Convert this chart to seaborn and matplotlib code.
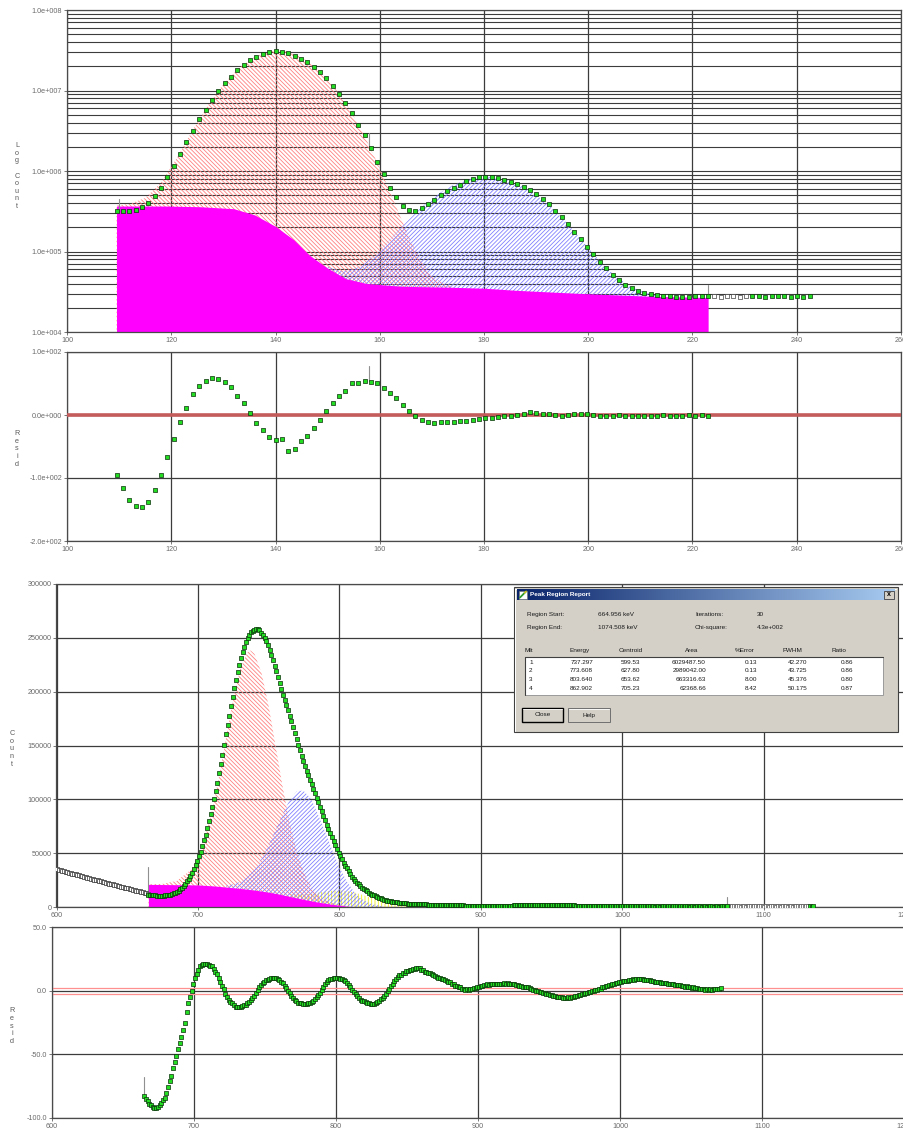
import numpy as np
import matplotlib
matplotlib.use("Agg")
import matplotlib.pyplot as plt
import seaborn as sns
from matplotlib.patches import Rectangle
from matplotlib.ticker import FixedLocator, LogLocator, NullFormatter
from matplotlib.colors import LinearSegmentedColormap

# ======================= DATA =======================
# ---- upper spectrum (log counts), channel calibration ----
TOP_E0, TOP_DE = 109.5, 1.22
top_counts_k = [
    321, 316, 318, 328, 354, 404, 494, 621, 851, 1164,
    1626, 2270, 3170, 4385, 5728, 7621, 9950, 12270, 14860, 17990,
    20750, 23930, 26300, 28380, 29790, 30970, 30340, 28970, 27100, 24600,
    22390, 19770, 17140, 14190, 11380, 9060, 6930, 5210, 3720, 2800,
    1910, 1306, 918, 621, 480, 371, 328, 321, 344, 389,
    437, 504, 565, 621, 670, 752, 796, 836, 851, 851,
    826, 773, 736, 690, 640, 581, 513, 445, 389, 321,
    266, 220, 176, 143, 115, 93.1, 74.8, 61.8, 51.0, 44.3,
    38.4, 34.9, 32.3, 30.8, 29.4, 28.6, 28.0, 27.7, 27.4, 27.4,
    27.2, 27.7, 27.7, 28.0, 27.9, 27.6, 28.1, 27.8, 27.5, 28.0,
    27.7, 27.9, 27.6, 27.8, 28.1, 27.7, 27.5, 27.9, 27.6, 27.8]
top_open_range = (94, 100)   # points drawn as open squares (outside fit region)
top_resid = [
    -95.2, -115.9, -134.4, -145, -146.6, -137.6, -118.5, -95.2, -66.1, -38.1,
    -10.6, 10.6, 33.3, 46, 53.4, 58.7, 56.6, 52.9, 43.9, 30.2,
    18.5, 3.7, -13.2, -24.3, -34.4, -39.7, -38.1, -57.1, -54, -41.8,
    -33.3, -20.1, -7.4, 6.3, 19, 30.2, 38.6, 50.3, 50.8, 53.4,
    52.9, 50.3, 42.9, 35.4, 27, 15.9, 5.8, -2.1, -7.9, -10.6,
    -13.2, -10.6, -10.6,
    -11, -10, -9, -8, -7, -5, -4, -3, -2, -1, 0, 2, 4, 3, 2, 1, 0, -1, 0, 1,
    2, 1, 0, -1, -2, -1, 0, -1, -2, -1, -1, -2, -1, 0, -1, -2, -1, 0, -1, 0, -1]
top_bg_x = [109.5, 119, 125.5, 132, 136, 140, 143.5, 146.5, 150, 153.5, 157.5,
            164, 173.5, 180, 186, 199, 212, 223]
top_bg_k = [367, 367, 360, 340, 285, 205, 140, 90, 62, 46, 40, 37, 36, 35, 33,
            30, 27.8, 26.8]
top_pk1_x = [109.5, 112, 115, 118, 121, 124, 127, 130, 133, 136, 139, 140.5,
             142, 145, 148, 151, 154, 157, 160, 162, 164, 166, 168, 170, 172, 174]
top_pk1_k = [373, 390, 463, 711, 1422, 3124, 6500, 11980, 19130, 26200, 30600,
             31200, 30580, 26040, 18900, 11690, 6186, 2800, 1093, 546, 266, 133,
             74.5, 50, 40.6, 36.3]
top_pk2_x = [150, 153, 156, 159, 162, 165, 168, 171, 174, 177, 180.5, 184, 187,
             190, 193, 196, 199, 202, 205, 208, 211, 214]
top_pk2_k = [65, 56.5, 64, 89, 141, 228, 355, 510, 668, 792, 850, 791, 665, 505,
             350, 222, 133, 79.5, 50.8, 36.8, 30.9, 27.6]
top_marker_x = [110, 158, 223]
top_marker_lo_k = [321, 2000, 29]
top_marker_hi_k = [445, 2960, 38]
top_resid_marker = (158, 54, 78)
top_xticks = [100, 120, 140, 160, 180, 200, 220, 240, 260]
top_yticks = [1e4, 1e5, 1e6, 1e7, 1e8]
top_yticklabels = ['1.0e+004', '1.0e+005', '1.0e+006', '1.0e+007', '1.0e+008']
top_rticks = [-200, -100, 0, 100]
top_rticklabels = ['-2.0e+002', '-1.0e+002', '0.0e+000', '1.0e+002']

# ---- lower spectrum (linear counts) ----
BOT_DE = 1.19
pre_E0 = 600.5
pre_counts_k = [
    35.0, 34.6, 34.1, 33.7, 33.3, 32.8, 32.4, 32.0, 31.5, 31.1,
    30.7, 30.2, 29.8, 29.4, 28.9, 28.5, 28.1, 27.7, 27.2, 26.8,
    26.4, 25.9, 25.5, 25.1, 24.7, 24.3, 23.8, 23.4, 23.0, 22.6,
    22.2, 21.7, 21.3, 20.9, 20.5, 20.1, 19.7, 19.3, 18.9, 18.4,
    18.0, 17.6, 17.2, 16.8, 16.4, 16.0, 15.6, 15.2, 14.8, 14.4,
    14.0, 13.6, 13.2, 12.8, 12.4]
fit_E0 = 665.0
fit_counts_k = [
    11.6, 11.2, 11.0, 10.8, 10.7, 10.6, 10.5, 10.5, 10.5, 10.6,
    10.7, 10.9, 11.2, 11.6, 12.0, 12.6, 13.2, 14.1, 15.2, 16.5,
    18.0, 19.8, 21.8, 24.0, 26.4, 29.0, 31.8, 35.0, 38.6, 43.0,
    47.0, 51.5, 56.5, 61.8, 67.3, 73.2, 79.5, 86.0, 92.8, 100.0,
    107.6, 115.5, 124.7, 133.0, 141.6, 150.4, 160.3, 169.0, 177.8, 186.5,
    195.5, 203.7, 211.2, 218.5, 225.2, 231.3, 236.8, 241.6, 245.8, 249.4,
    252.6, 255.0, 256.7, 257.7, 258.1, 258.0, 257.0, 254.8, 252.6, 250.0,
    246.8, 243.3, 238.8, 234.0, 229.0, 224.2, 219.0, 213.5, 207.8, 202.2,
    197.2, 192.4, 187.6, 182.8, 177.8, 172.4, 166.8, 161.2, 155.8, 150.6,
    145.6, 140.6, 135.6, 131.0, 126.6, 122.4, 118.2, 114.2, 110.0, 105.8,
    101.6, 97.4, 93.2, 89.0, 84.8, 80.6, 76.6, 72.6, 68.8, 65.0,
    61.3, 57.6, 54.0, 50.5, 47.3, 44.2, 41.3, 38.5, 35.8, 33.2,
    30.7, 28.3, 26.4, 24.5, 22.7, 21.0, 19.5, 18.1, 16.8, 15.6,
    14.4, 13.4, 12.4, 11.5, 10.7, 9.9, 9.2, 8.5, 7.9, 7.4,
    6.9, 6.4, 6.0, 5.6, 5.3, 5.0, 4.7, 4.5, 4.2, 4.0,
    3.8, 3.6, 3.4, 3.3, 3.2, 3.0, 2.9, 2.8, 2.7, 2.6,
    2.6, 2.5, 2.5, 2.4, 2.4, 2.4, 2.3, 2.3, 2.3, 2.2,
    2.2, 2.2, 2.1, 2.1, 2.0, 2.0, 1.9, 1.9, 1.8, 1.8,
    1.7, 1.7, 1.6, 1.6, 1.5, 1.5, 1.4, 1.4, 1.3, 1.3,
    1.2, 1.2, 1.1, 1.1, 1.0, 1.0, 0.9, 0.9, 0.8, 0.8,
    0.7, 0.7, 0.7, 0.6, 0.6, 0.6, 0.6, 0.6, 0.6, 0.7,
    0.7, 0.8, 0.9, 1.0, 1.1, 1.2, 1.3, 1.4, 1.5, 1.6,
    1.7, 1.8, 1.8, 1.9, 1.9, 2.0, 2.0, 2.0, 2.1, 2.1,
    2.1, 2.1, 2.1, 2.0, 2.0, 2.0, 1.9, 1.9, 1.9, 1.8,
    1.8, 1.8, 1.7, 1.7, 1.7, 1.6, 1.6, 1.6, 1.5, 1.5,
    1.5, 1.4, 1.4, 1.4, 1.3, 1.3, 1.3, 1.2, 1.2, 1.2,
    1.1, 1.1, 1.1, 1.0, 1.0, 1.0, 0.9, 0.9, 0.9, 0.8,
    0.8, 0.8, 0.7, 0.7, 0.7, 0.6, 0.6, 0.6, 0.6, 0.5,
    0.5, 0.5, 0.5, 0.5, 0.5, 0.5, 0.5, 0.5, 0.5, 0.5,
    0.5, 0.5, 0.5, 0.5, 0.5, 0.5, 0.5, 0.5, 0.5, 0.5,
    0.5, 0.4, 0.5, 0.5, 0.4, 0.5, 0.5, 0.5, 0.4, 0.5,
    0.5, 0.4, 0.5, 0.5, 0.5, 0.4, 0.5, 0.5, 0.4, 0.5,
    0.5, 0.5, 0.4, 0.5, 0.5, 0.4, 0.5, 0.5, 0.5, 0.4,
    0.5, 0.5, 0.4, 0.5, 0.5, 0.5, 0.4, 0.5, 0.5, 0.4,
    0.5, 0.5, 0.5, 0.4, 0.5]
post_E0 = 1075.6
post_counts_k = [
    0.5, 0.4, 0.5, 0.5, 0.4, 0.5, 0.5, 0.4, 0.5, 0.5,
    0.4, 0.5, 0.5, 0.5, 0.4, 0.5, 0.5, 0.4, 0.5, 0.5,
    0.5, 0.4, 0.5, 0.5, 0.4, 0.5, 0.5, 0.5, 0.4, 0.5,
    0.5, 0.4, 0.5, 0.5, 0.5, 0.4, 0.5, 0.5, 0.4, 0.5,
    0.5, 0.5, 0.4, 0.5, 0.5, 0.4, 0.5, 0.5, 0.5, 0.4, 0.5]
post_green_from = 48
bot_resid = [
    -83, -85, -87, -89, -90, -91, -92, -92, -91, -90,
    -88, -86, -84, -80, -76, -71, -67, -61, -56, -51,
    -46, -41, -36, -31, -25, -17, -10, -5, 0, 5,
    10, 13, 16, 19, 20, 21, 21, 21, 20, 19.5,
    19, 17, 15, 13, 10, 7, 4, 1, -3, -5,
    -7, -9, -10, -11.5, -12.5, -13, -12.5, -12.5, -12, -11.5,
    -11, -10, -9, -7.5, -6, -4, -2, 0.5, 2.5, 4.5,
    6, 7, 8, 8.6, 9, 9.6, 10, 10, 9.6, 9.4,
    8, 7, 6, 4, 2, 0, -2, -4.5, -6, -7.5,
    -8.5, -9.5, -10, -10, -10.5, -10.5, -10.5, -10, -9.5, -8.8,
    -8, -6.5, -5, -3.5, -2, 0.5, 3, 5.5, 7, 8,
    9, 9.4, 9.6, 9.8, 10, 9.9, 9.5, 9, 8.2, 7.3,
    6, 4.5, 2.5, 0.8, -1, -3, -4.5, -6, -7, -7.8,
    -8.5, -9, -9.6, -10, -10.4, -10.5, -10.2, -9.6, -8.8, -8,
    -6.8, -5.5, -4, -2.5, -0.5, 1.5, 3.5, 5.5, 7.5, 9,
    10.8, 12.4, 12.6, 14.2, 14.1, 15.4, 15.2, 16.5, 16.1, 17.2,
    17.0, 17.9, 17.5, 17.9, 16.6, 16.3, 15.0, 14.9, 13.8, 13.7,
    12.8, 12.4, 11.2, 11.0, 10.0, 9.7, 8.8, 8.8, 8.0, 7.8,
    6.8, 6.6, 5.4, 5.0, 3.8, 3.7, 2.8, 2.6, 1.7, 1.6,
    0.8, 1.0, 0.8, 1.6, 1.6, 2.4, 2.4, 3.2, 3.1, 3.8,
    3.7, 4.4, 4.3, 4.9, 4.7, 5.2, 4.9, 5.4, 5.0, 5.4,
    5.1, 5.6, 5.3, 5.7, 5.3, 5.7, 5.2, 5.5, 4.9, 5.1,
    4.5, 4.7, 4.0, 4.0, 3.2, 3.2, 2.5, 2.6, 1.8, 1.7,
    0.8, 0.7, -0.1, -0.1, -1.0, -1.0, -1.8, -1.8, -2.5, -2.5,
    -3.3, -3.3, -4.0, -4.0, -4.7, -4.6, -5.3, -5.2, -5.8, -5.6,
    -5.9, -5.3, -5.4, -4.7, -4.7, -4.0, -4.0, -3.3, -3.3, -2.6,
    -2.7, -1.9, -1.9, -1.1, -1.2, -0.5, -0.6, 0.4, 0.5, 1.5,
    1.7, 2.6, 2.7, 3.6, 3.6, 4.5, 4.5, 5.3, 5.2, 6.0,
    5.9, 6.6, 6.6, 7.3, 7.2, 7.9, 7.7, 8.4, 8.2, 8.8,
    8.6, 9.1, 8.9, 9.4, 8.9, 9.2, 8.6, 8.7, 8.0, 8.1,
    7.5, 7.6, 7.0, 7.1, 6.5, 6.7, 6.1, 6.3, 5.7, 5.9,
    5.4, 5.6, 5.0, 5.2, 4.6, 4.7, 4.1, 4.3, 3.7, 3.9,
    3.2, 3.4, 2.8, 3.0, 2.4, 2.6, 1.9, 2.1, 1.5, 1.7,
    1.1, 1.3, 0.8, 1.1, 0.6, 1.0, 0.7, 1.3, 1.1, 1.7, 1.4, 1.8]
bot_bg_x = [665, 700, 712, 724, 735, 745, 755, 765, 775, 785, 795, 805, 808]
bot_bg_k = [21, 20.5, 19.5, 18, 16.5, 14.8, 12.6, 9.8, 7, 4.5, 2.4, 0.8, 0.5]
bot_pk1_x = [665, 675, 685, 695, 700, 705, 710, 715, 720, 725, 730, 735, 737.3,
             740, 745, 750, 755, 760, 765, 770, 775, 780, 785, 790, 795, 800, 805]
bot_pk1_k = [21.1, 21.5, 24.2, 34.5, 46.2, 64.4, 89.6, 121.8, 158.1, 193.5, 221.6,
             236.7, 238.2, 235.1, 217.3, 186.7, 149.2, 111.1, 77.4, 50.7, 31.5,
             18.9, 11, 6.4, 3.7, 2.0, 1.0]
bot_pk2_x = [720, 725, 730, 735, 740, 745, 750, 755, 760, 765, 770, 773.6, 775,
             780, 785, 790, 795, 800, 805, 810, 815, 820, 825, 830]
bot_pk2_k = [20, 21.1, 23.4, 27.8, 34.7, 44.7, 57.5, 71.9, 86.2, 100, 107.5, 108,
             107.5, 100.5, 85.7, 69.7, 52.8, 37.2, 24.3, 14.8, 8.2, 4.3, 2.1, 1.0]
bot_pk3_x = [765, 770, 775, 780, 785, 790, 795, 800, 805, 810, 815, 820, 825, 830,
             835, 840, 845, 850, 855]
bot_pk3_k = [11.7, 11.5, 11.7, 12.3, 13.3, 14.3, 15.1, 15.3, 14.8, 13.7, 11.8, 9.7,
             7.6, 5.5, 3.7, 2.4, 1.4, 0.8, 0.4]
bot_marker_x = [665, 1074]
bot_marker_lo_k = [13, 0.3]
bot_marker_hi_k = [37, 9.5]
bot_resid_marker = (665, -82, -68)
bot_xticks = [600, 700, 800, 900, 1000, 1100, 1200]
bot_yticks = [0, 50000, 100000, 150000, 200000, 250000, 300000]
bot_yticklabels = ['0', '50000', '100000', '150000', '200000', '250000', '300000']
bot_rticks = [-100, -50, 0, 50]
bot_rticklabels = ['-100.0', '-50.0', '0.0', '50.0']
bot_resid_band = [-2.4, 2.4]

# ---- report dialog ----
dlg_title = 'Peak Region Report'
dlg_labels = ['Region Start:', 'Region End:']
dlg_values = ['664.956 keV', '1074.508 keV']
dlg_labels2 = ['Iterations:', 'Chi-square:']
dlg_values2 = ['30', '4.3e+002']
tbl_headers = ['Mlt', 'Energy', 'Centroid', 'Area', '%Error', 'FWHM', 'Ratio']
tbl_mlt = ['1', '2', '3', '4']
tbl_energy = ['737.297', '773.608', '803.640', '862.902']
tbl_centroid = ['599.53', '627.80', '653.62', '705.23']
tbl_area = ['6029487.50', '2989042.00', '663316.63', '62368.66']
tbl_error = ['0.13', '0.13', '8.00', '8.42']
tbl_fwhm = ['42.270', '43.725', '45.376', '50.175']
tbl_ratio = ['0.86', '0.86', '0.80', '0.87']
dlg_buttons = ['Close', 'Help']

# ======================= STYLE =======================
sns.set_theme(style="white")
plt.rcParams['font.family'] = ['Liberation Sans', 'DejaVu Sans']
plt.rcParams['hatch.linewidth'] = 0.6

W, H = 904, 1133
fig = plt.figure(figsize=(W / 100, H / 100), dpi=100)
fig.patch.set_facecolor('white')

GRID = '#3c3c3c'
TICKC = '#6a6a6a'
GREEN = '#22dd22'
GEDGE = '#0b2f0b'
PINK = '#ff8080'
BLUE = '#8080ff'
YELLOW = '#f0f020'
MAGENTA = '#ff00ff'
HATCH_PINK = '\\' * 8
HATCH_BLUE = '/' * 8
HATCH_YEL = '|' * 5


def px_axes(l, r, t, b):
    return fig.add_axes([l / W, 1 - b / H, (r - l) / W, (b - t) / H])


def style(ax):
    ax.set_facecolor('white')
    for s in ax.spines.values():
        s.set_visible(True)
        s.set_color('#4a4a4a')
        s.set_linewidth(0.9)
    ax.tick_params(axis='both', which='major', bottom=True, left=True, length=2,
                   width=0.6, color='#606060', labelsize=5.2, labelcolor=TICKC,
                   pad=1.5, direction='out')
    ax.tick_params(which='minor', length=0)
    ax.set_axisbelow(True)


def pts(ax, x, y, s, face=GREEN, edge=GEDGE, lw=0.5):
    sns.scatterplot(x=np.asarray(x, float), y=np.asarray(y, float), ax=ax,
                    marker='s', s=s, color=face, edgecolor=edge, linewidth=lw,
                    zorder=5, legend=False)


# ---------------- panel 1: log counts ----------------
ax1 = px_axes(67, 901, 10, 332)
style(ax1)
ax1.set_yscale('log')
top_x = TOP_E0 + TOP_DE * np.arange(len(top_counts_k))
top_y = np.array(top_counts_k) * 1e3
ax1.fill_between(top_pk1_x, 1e4, np.array(top_pk1_k) * 1e3, facecolor='none',
                 edgecolor=PINK, hatch=HATCH_PINK, linewidth=0, zorder=0.8)
ax1.fill_between(top_pk2_x, 1e4, np.array(top_pk2_k) * 1e3, facecolor='none',
                 edgecolor=BLUE, hatch=HATCH_BLUE, linewidth=0, zorder=0.8)
ax1.fill_between(top_bg_x, 1e4, np.array(top_bg_k) * 1e3, color=MAGENTA,
                 linewidth=0, zorder=1)
a, b = top_open_range
mask = np.ones(len(top_x), bool)
mask[a:b] = False
pts(ax1, top_x[mask], top_y[mask], 9)
pts(ax1, top_x[~mask], top_y[~mask], 8, face='white', edge='#404040')
for mx, lo, hi in zip(top_marker_x, top_marker_lo_k, top_marker_hi_k):
    ax1.plot([mx, mx], [lo * 1e3, hi * 1e3], color='#909090', lw=0.8, zorder=4)
ax1.set_xlim(100, 260)
ax1.set_ylim(1e4, 1e8)
ax1.xaxis.set_major_locator(FixedLocator(top_xticks))
ax1.set_xticklabels([str(v) for v in top_xticks])
ax1.yaxis.set_major_locator(FixedLocator(top_yticks))
ax1.set_yticklabels(top_yticklabels)
ax1.yaxis.set_minor_locator(LogLocator(base=10, subs=np.arange(2, 10), numticks=30))
ax1.yaxis.set_minor_formatter(NullFormatter())
ax1.grid(True, which='both', axis='y', color=GRID, lw=0.8)
ax1.grid(True, which='major', axis='x', color=GRID, lw=0.9)

# ---------------- panel 2: residuals (upper) ----------------
ax2 = px_axes(67, 901, 352, 541)
style(ax2)
rx = TOP_E0 + TOP_DE * np.arange(len(top_resid))
ax2.axhline(0, color='#c45c5c', lw=2.6, zorder=3)
pts(ax2, rx, top_resid, 9)
ax2.plot([top_resid_marker[0]] * 2, top_resid_marker[1:], color='#909090', lw=0.8,
         zorder=4)
ax2.set_xlim(100, 260)
ax2.set_ylim(-200, 100)
ax2.xaxis.set_major_locator(FixedLocator(top_xticks))
ax2.set_xticklabels([str(v) for v in top_xticks])
ax2.yaxis.set_major_locator(FixedLocator(top_rticks))
ax2.set_yticklabels(top_rticklabels)
ax2.grid(True, which='major', color=GRID, lw=0.9)

# ---------------- panel 3: linear counts ----------------
ax3 = px_axes(56.5, 905, 584, 907)
style(ax3)
ax3.fill_between(bot_pk1_x, 0, np.array(bot_pk1_k) * 1e3, facecolor='none',
                 edgecolor=PINK, hatch=HATCH_PINK, linewidth=0, zorder=0.8)
ax3.fill_between(bot_pk2_x, 0, np.array(bot_pk2_k) * 1e3, facecolor='none',
                 edgecolor=BLUE, hatch=HATCH_BLUE, linewidth=0, zorder=0.8)
ax3.fill_between(bot_pk3_x, 0, np.array(bot_pk3_k) * 1e3, facecolor='none',
                 edgecolor=YELLOW, hatch=HATCH_YEL, linewidth=0, zorder=0.75)
ax3.fill_between(bot_bg_x, 0, np.array(bot_bg_k) * 1e3, color=MAGENTA,
                 linewidth=0, zorder=1)
pre_x = pre_E0 + BOT_DE * np.arange(len(pre_counts_k))
fit_x = fit_E0 + BOT_DE * np.arange(len(fit_counts_k))
post_x = post_E0 + BOT_DE * np.arange(len(post_counts_k))
post_y = np.array(post_counts_k) * 1e3
pts(ax3, pre_x, np.array(pre_counts_k) * 1e3, 6, face='white', edge='#303030')
pts(ax3, post_x[:post_green_from], post_y[:post_green_from], 6, face='white',
    edge='#505050')
pts(ax3, fit_x, np.array(fit_counts_k) * 1e3, 7)
pts(ax3, post_x[post_green_from:], post_y[post_green_from:], 7)
for mx, lo, hi in zip(bot_marker_x, bot_marker_lo_k, bot_marker_hi_k):
    ax3.plot([mx, mx], [lo * 1e3, hi * 1e3], color='#909090', lw=0.8, zorder=4)
ax3.set_xlim(600, 1200)
ax3.set_ylim(0, 300000)
ax3.xaxis.set_major_locator(FixedLocator(bot_xticks))
ax3.set_xticklabels([str(v) for v in bot_xticks])
ax3.yaxis.set_major_locator(FixedLocator(bot_yticks))
ax3.set_yticklabels(bot_yticklabels)
ax3.grid(True, which='major', color=GRID, lw=0.9)

# ---------------- panel 4: residuals (lower) ----------------
ax4 = px_axes(52, 904, 927, 1118)
style(ax4)
brx = fit_E0 + BOT_DE * np.arange(len(bot_resid))
for yb in bot_resid_band:
    ax4.axhline(yb, color='#ff9090', lw=0.9, zorder=2)
pts(ax4, brx, bot_resid, 7)
ax4.plot([bot_resid_marker[0]] * 2, bot_resid_marker[1:], color='#909090', lw=0.8,
         zorder=4)
ax4.set_xlim(600, 1200)
ax4.set_ylim(-100, 50)
ax4.xaxis.set_major_locator(FixedLocator(bot_xticks))
ax4.set_xticklabels([str(v) for v in bot_xticks])
ax4.yaxis.set_major_locator(FixedLocator(bot_rticks))
ax4.set_yticklabels(bot_rticklabels)
ax4.grid(True, which='major', color=GRID, lw=0.9)

for ax in (ax1, ax2, ax3, ax4):
    ax.set_xlabel('')
    ax.set_ylabel('')

# ---------------- overlay: axis titles and dialog ----------------
ov = fig.add_axes([0, 0, 1, 1], zorder=10)
ov.patch.set_alpha(0)
ov.axis('off')

lab_kw = dict(ha='center', va='center', fontsize=5.2, color='#5a5a5a',
              linespacing=1.12)
ov.text(17, 176, '\n'.join('Log Count'), **lab_kw)
ov.text(17, 449, '\n'.join('Resid'), **lab_kw)
ov.text(12, 749, '\n'.join('Count'), **lab_kw)
ov.text(12, 1026, '\n'.join('Resid'), **lab_kw)

# dialog frame
ov.add_patch(Rectangle((514, 587), 384, 145, facecolor='#d4d0c8',
                       edgecolor='#404040', lw=0.8, zorder=1))
ov.plot([515.5, 896.5], [588.5, 588.5], color='white', lw=0.7, zorder=2)
ov.plot([515.5, 515.5], [588.5, 730.5], color='white', lw=0.7, zorder=2)
cmap = LinearSegmentedColormap.from_list('title', ['#0a246a', '#a6caf0'])
ov.imshow(np.linspace(0, 1, 256)[None, :], extent=(517, 895, 600, 589),
          cmap=cmap, aspect='auto', zorder=2, interpolation='bilinear')
ov.add_patch(Rectangle((519, 590.5), 8, 8, facecolor='white', edgecolor='#707070',
                       lw=0.4, zorder=3))
ov.plot([520, 526], [597.5, 591.5], color='#2f9a2f', lw=1.3, zorder=4)
ov.plot([524.5, 526.2], [593, 591.3], color='#e0c020', lw=1.0, zorder=4)
ov.text(530, 594.8, dlg_title, color='white', fontsize=4.6, fontweight='bold',
        ha='left', va='center', zorder=4)
ov.add_patch(Rectangle((884, 590.5), 10, 8.5, facecolor='#d4d0c8',
                       edgecolor='#404040', lw=0.6, zorder=3))
ov.text(889, 594.8, 'x', color='black', fontsize=5, fontweight='bold',
        ha='center', va='center', zorder=4)

tk = dict(fontsize=4.6, color='#1a1a1a', va='center', zorder=4)
for i, yy in enumerate([614.5, 627.5]):
    ov.text(527, yy, dlg_labels[i], ha='left', **tk)
    ov.text(598, yy, dlg_values[i], ha='left', **tk)
    ov.text(695, yy, dlg_labels2[i], ha='left', **tk)
    ov.text(757, yy, dlg_values2[i], ha='left', **tk)

hdr_x = [525, 580, 631, 692, 745, 792, 839]
for j, h in enumerate(tbl_headers):
    ov.text(hdr_x[j], 650.5, h, ha='left' if j == 0 else 'center', **tk)

ov.add_patch(Rectangle((525, 657), 358, 38, facecolor='white',
                       edgecolor='#9a9a9a', lw=0.7, zorder=3))
ov.plot([525, 883], [657.3, 657.3], color='#404040', lw=0.8, zorder=4)
ov.plot([525.3, 525.3], [657, 695], color='#404040', lw=0.8, zorder=4)
cols = [tbl_energy, tbl_centroid, tbl_area, tbl_error, tbl_fwhm, tbl_ratio]
col_right = [593, 640, 706, 757, 807, 853]
for r, yy in enumerate([662.5, 671, 679.5, 688]):
    ov.text(529, yy, tbl_mlt[r], ha='left', **tk)
    for c, vals in enumerate(cols):
        ov.text(col_right[c], yy, vals[r], ha='right', **tk)

btn_boxes = [(522, 708, 41, 14), (568, 708, 42, 14)]
for (bx, by, bw, bh), label, ec, lw in zip(btn_boxes, dlg_buttons,
                                           ['#000000', '#707070'], [1.0, 0.7]):
    ov.add_patch(Rectangle((bx, by), bw, bh, facecolor='#d4d0c8', edgecolor=ec,
                           lw=lw, zorder=3))
    ov.plot([bx + 1, bx + bw - 1], [by + 1, by + 1], color='white', lw=0.6, zorder=4)
    ov.text(bx + bw / 2, by + bh / 2, label, ha='center', **tk)

ov.set_xlim(0, W)
ov.set_ylim(H, 0)

fig.savefig('out.png', dpi=100)
